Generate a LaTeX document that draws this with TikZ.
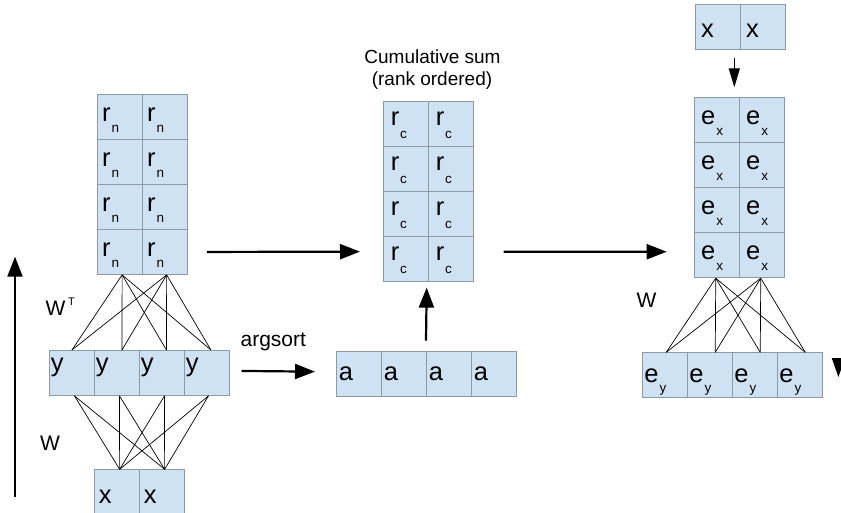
\documentclass[tikz,border=0pt]{standalone}
\usepackage{fontspec}
\setmainfont{Liberation Sans}
\usetikzlibrary{arrows.meta}

\definecolor{cellfill}{HTML}{CFE2F3}
\definecolor{cellline}{HTML}{8E9AA3}

% letter with its index set low, as in the drawing
\newcommand{\low}[3][11]{#2\hspace{1pt}\raisebox{-#1pt}{\fontsize{13.5}{13.5}\selectfont #3}}

\begin{document}
\begin{tikzpicture}[x=1pt, y=-1pt,
    cell/.style={draw=cellline, fill=cellfill, line width=0.9pt, anchor=north west,
        minimum width=45pt, minimum height=45pt, inner sep=0pt,
        text width=45pt, align=left, font=\fontsize{25.5}{25.5}\selectfont},
    textbase/.style 2 args={text height=#1pt, text depth=#2pt},
    wire/.style={line width=0.7pt},
    big/.style={-{Triangle[length=20pt,width=15pt]}, line width=2.2pt},
    small/.style={-{Triangle[length=19pt,width=11pt]}, line width=1.3pt},
    lbl/.style={font=\fontsize{21}{21}\selectfont, inner sep=0pt}]
\useasboundingbox (0,0) rectangle (841,513);

% columns of 4x2 cells
\foreach \r in {1,...,4}
    \foreach \c in {1,2} {
        \node[cell, textbase={26.7}{18.3}] (rn-\r-\c) at ({96.7+45*(\c-1)}, {94+45*(\r-1)}) {\hspace*{5pt}\low{r}{n}};
        \node[cell, textbase={24.3}{20.7}] (rc-\r-\c) at ({383.3+45*(\c-1)}, {100.7+45*(\r-1)}) {\hspace*{7pt}\low[13]{r}{c}};
        \node[cell, textbase={26.7}{18.3}] (ex-\r-\c) at ({694.3+45*(\c-1)}, {97.3+45*(\r-1)}) {\hspace*{6.4pt}\low{e}{x}};
    }

% rows of 4 cells
\foreach \i in {1,...,4} {
    \node[cell, textbase={20.6}{24.4}] (y\i) at ({49+45*(\i-1)}, 350) {\hspace*{1.5pt}y};
    \node[cell, textbase={29.3}{15.7}] (a\i) at ({336+45*(\i-1)}, 350.7) {\hspace*{2.4pt}a};
    \node[cell, textbase={29.4}{15.6}] (ey\i) at ({642.3+45*(\i-1)}, 352.3) {\hspace*{1.7pt}\low[10]{e}{y}};
}

% inputs
\foreach \i in {1,2} {
    \node[cell, textbase={33.4}{11.6}] (x\i) at ({93.7+45*(\i-1)}, 469.3) {\hspace*{4.6pt}x};
    \node[cell, textbase={32.4}{12.6}] (xt\i) at ({695+45*(\i-1)}, 4.3) {\hspace*{5.6pt}x};
}

% weights
\foreach \t/\ts in {1/2.5, 2/2}
    \foreach \b/\bs in {1/0, 2/5, 3/4.5, 4/4}
        \draw[wire] ([xshift=\ts pt]rn-4-\t.south) -- ([xshift=\bs pt]y\b.north);
\foreach \t/\ts in {1/2.5, 2/2.5, 3/2.5, 4/1.5}
    \foreach \b in {1,2}
        \draw[wire] ([xshift=\ts pt]y\t.south) -- ([xshift=3pt]x\b.north);
\foreach \t in {1,2}
    \foreach \b/\bs in {1/1, 2/5, 3/5, 4/5}
        \draw[wire] ([xshift=-1.5pt]ex-4-\t.south) -- ([xshift=\bs pt]ey\b.north);

% labels
\node[lbl, anchor=base west] (wt) at (45.5,315.5) {W\hspace{2.5pt}\raisebox{10pt}{\fontsize{11}{11}\selectfont T}};
\node[lbl, anchor=base west] (w1) at (39.8,450) {W};
\node[lbl, anchor=base west] (w2) at (636.5,307.3) {W};
\node[lbl, anchor=base] (argsort) at (273.3,346) {argsort};
\node[lbl, font=\fontsize{19}{19}\selectfont, anchor=base] (title1) at (432.5,63.3) {Cumulative sum};
\node[lbl, font=\fontsize{19}{19}\selectfont, anchor=base] (title2) at (432,85.5) {(rank ordered)};

% arrows
\coordinate (up-start) at (15,497);
\coordinate (up-end) at (15,256.7);
\draw[big] (up-start) -- (up-end);
\draw[big] ([xshift=19.3pt]rn-4-2.east) -- ([xshift=-23.3pt, yshift=7pt]rc-4-1.west);
\draw[big] ([xshift=29.4pt, yshift=7pt]rc-4-2.east) -- ([xshift=-27.6pt, yshift=3.5pt]ex-4-1.west);
\draw[big] ([xshift=11.7pt, yshift=2pt]y4.east) -- ([xshift=-21pt, yshift=2pt]a1.west);
\draw[big] ([yshift=10pt]a3.north west) -- ([xshift=-1.6pt, yshift=-6pt]rc-4-2.south west);
\draw[small] ([xshift=-5.7pt, yshift=-8pt]xt2.south west) -- ([xshift=-5pt, yshift=10pt]ex-1-2.north west);

% cut at the right edge
\fill (831.7,358) -- (845.1,358) -- (838.4,377) -- cycle;
\end{tikzpicture}
\end{document}
